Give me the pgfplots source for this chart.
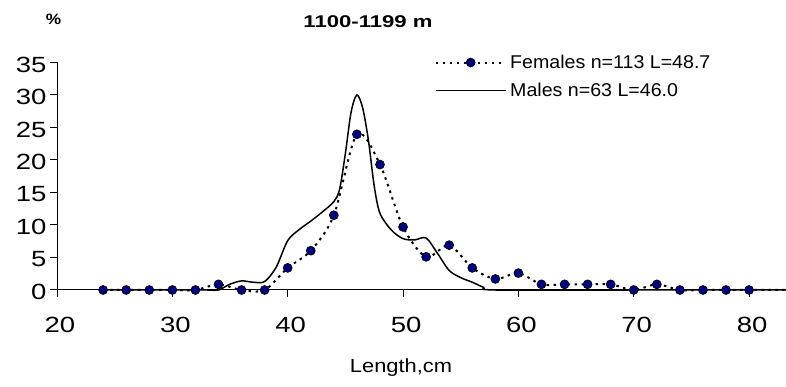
\documentclass[border=0pt]{standalone}
\usepackage{fontspec}
\setmainfont{Liberation Sans}
\newfontfamily\tickfont{Liberation Sans}[FakeStretch=1.25]
\newfontfamily\labfont{Liberation Sans}[FakeStretch=1.15]
\newfontfamily\titfont{Liberation Sans}[FakeStretch=1.3]
\newfontfamily\legfont{Liberation Sans}[FakeStretch=1.06]
\usepackage{pgfplots}
\pgfplotsset{compat=1.18}
\definecolor{navy}{RGB}{0,0,128}

\pgfplotstableread{
x y
24 0
26 0
28 0
30 0
32 0
34 0.87
36 0
38 0
40 3.4
42 6.05
44 11.5
46 23.95
48 19.3
50 9.7
52 5.1
54 6.9
56 3.4
58 1.7
60 2.6
62 0.87
64 0.87
66 0.87
68 0.87
70 0
72 0.87
74 0
76 0
78 0
80 0
}\females

\pgfplotstableread{
x y
24 0
30 0
33 0
34 0
35 0.9
36 1.4
37 1.2
38 1.3
39 3.5
40 7.6
41 9.3
42 10.6
43 12.0
44 13.6
44.5 15.5
45 21.0
45.5 27.4
46 30.0
46.5 28.0
47 23.0
47.5 16.0
48 11.8
49 9.2
50 7.9
51 7.7
52 8.0
53 5.6
54 3.0
55 1.9
56 1.2
57 0.4
58 0
70 0
83.2 0
}\males

\begin{document}
\begin{tikzpicture}
\useasboundingbox (-57pt,-97pt) rectangle (729pt,290pt);
\begin{axis}[
  at={(0pt,0pt)}, anchor=south west,
  scale only axis, width=729pt, height=227.5pt,
  xmin=20, xmax=83.2, ymin=0, ymax=35,
  axis x line*=bottom, axis y line*=left,
  xtick={20,30,...,80}, ytick={0,5,...,35},
  tick align=outside, major tick length=7pt,
  tick style={black, line width=1pt},
  axis line style={black, line width=1pt},
  clip=false,
  ticklabel style={font=\tickfont\fontsize{22}{22}\selectfont},
  /pgf/number format/assume math mode=true,
  xticklabel style={xshift=3pt, yshift=-17pt},
  yticklabel style={yshift=-2pt},
  legend style={draw=none, fill=none, at={(0.5178,0.9385)}, anchor=west,
    inner sep=0pt, font=\legfont\fontsize{18.5}{20}\selectfont,
    row sep=6pt, nodes={inner sep=3.5pt}},
  legend cell align=left,
  legend image code/.code={\draw[mark repeat=2,mark phase=2,#1] plot coordinates {(0pt,0pt) (35pt,0pt) (70pt,0pt)};},
]
\addplot[black, line width=1.5pt, smooth, forget plot] table {\males};
\addplot[black, line width=2pt, dash pattern=on 2.5pt off 4.5pt, smooth, forget plot] table {\females} -- (axis cs:83.2,0);
\addplot[only marks, mark=*, mark size=4.5pt, mark options={fill=navy, draw=black, line width=0.6pt}, forget plot] table {\females};
\addlegendimage{black, line width=2pt, dash pattern=on 2.5pt off 4.5pt, mark=*, mark size=4.5pt, mark options={solid, fill=navy, draw=black, line width=0.6pt}}
\addlegendentry{Females n=113 L=48.7}
\addlegendimage{black, line width=1.5pt}
\addlegendentry{Males n=63 L=46.0}
\end{axis}
\node[font=\titfont\bfseries\fontsize{17}{17}\selectfont, anchor=base] at (311pt,262pt) {1100-1199 m};
\node[font=\labfont\bfseries\fontsize{15}{15}\selectfont, anchor=base] at (-3.5pt,265pt) {\%};
\node[font=\labfont\fontsize{19}{19}\selectfont, anchor=base] at (344pt,-83pt) {Length,cm};
\end{tikzpicture}
\end{document}
